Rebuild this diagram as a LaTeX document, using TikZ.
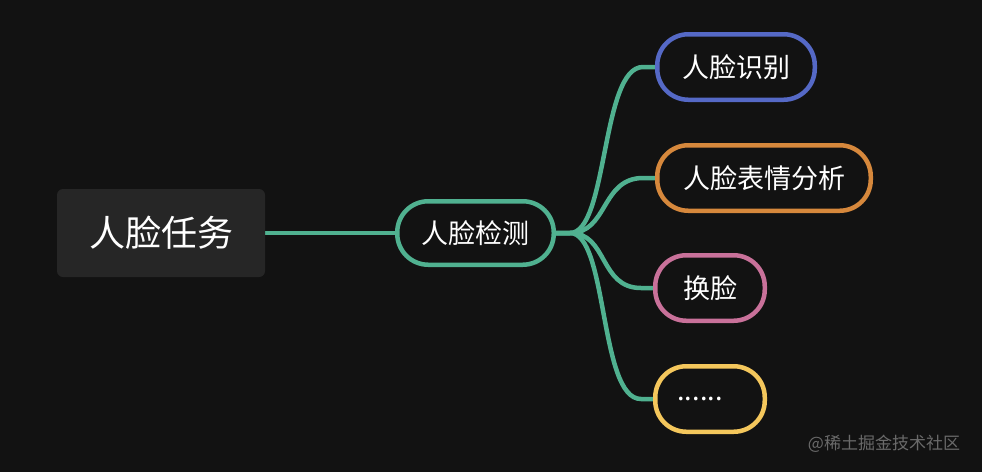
\documentclass[tikz,border=0pt]{standalone}
\usepackage{fontspec}
\usetikzlibrary{backgrounds}
\newfontfamily\cjk{Noto Sans CJK SC}
\definecolor{bg}{HTML}{121212}
\definecolor{rootfill}{HTML}{262626}
\definecolor{cgreen}{HTML}{50B190}
\definecolor{cblue}{HTML}{5569C6}
\definecolor{corange}{HTML}{D6883C}
\definecolor{cpink}{HTML}{C9719A}
\definecolor{cyellow}{HTML}{F4C75C}
\definecolor{wm}{HTML}{6A6A6A}
\tikzset{
  rootbox/.style={fill=rootfill, rounded corners=6pt, minimum width=208pt, minimum height=88pt,
    text=white, font=\cjk\fontsize{36}{42}\selectfont, inner sep=0pt},
  pill/.style={line width=4.5pt, fill=bg, rounded corners=31pt, minimum height=65.5pt,
    text=white, font=\cjk\fontsize{27}{32}\selectfont, inner sep=0pt},
  conn/.style={draw=cgreen, line width=4.5pt},
  wmark/.style={text=wm, font=\cjk\fontsize{17}{20}\selectfont, inner sep=0pt}
}
\begin{document}
\begin{tikzpicture}[x=1pt,y=-1pt]
\useasboundingbox (0,0) rectangle (982,472);
\node[rootbox] (root) at (161,233) {人脸任务};
\node[pill, draw=cgreen, minimum width=156.5pt, minimum height=63.5pt] (det) at (475.5,233) {人脸检测};
\node[pill, draw=cblue, minimum width=157.5pt] (c1) at (736,67) {人脸识别};
\node[pill, draw=corange, minimum width=213.5pt] (c2) at (764,178) {人脸表情分析};
\node[pill, draw=cpink, minimum width=109.5pt] (c3) at (710,288) {换脸};
\node[pill, draw=cyellow, minimum width=109.5pt] (c4) at (710,399) {......\kern20pt};
\node[wmark] (wmk) at (884,444) {@稀土掘金技术社区};
\begin{scope}[on background layer]
\fill[bg] (0,0) rectangle (982,472);
\draw[conn] (root.east) -- (det.west);
\foreach \c in {c1,c2,c3,c4}{
  \draw[conn] (det.east) -- ++(14,0) .. controls +(38,0) and +(-42,0) .. ([xshift=-12pt]\c.west) -- (\c.west);
}
\end{scope}
\end{tikzpicture}
\end{document}
